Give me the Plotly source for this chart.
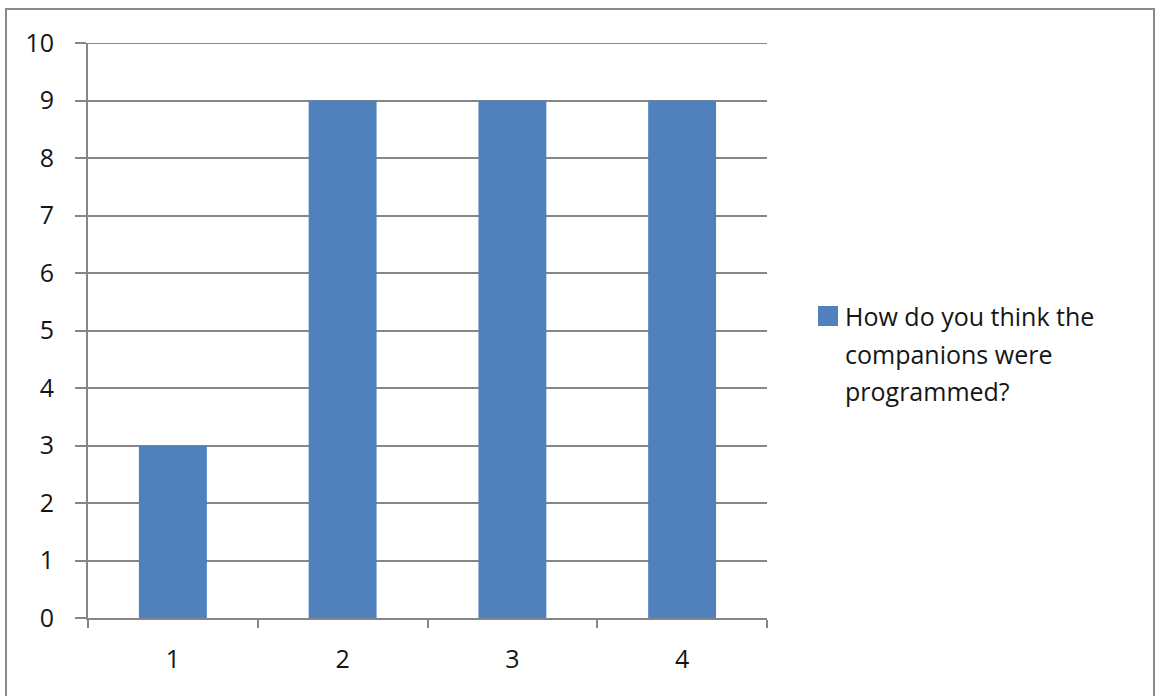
import plotly.graph_objects as go

# Survey responses per answer option
categories = ["1", "2", "3", "4"]
counts = [3, 9, 9, 9]
series_name = "How do you think the companions were programmed?"
legend_lines = ["How do you think the", "companions were", "programmed?"]
y_ticks = list(range(0, 11))
y_max = 10

W, H = 1155, 696
L, R, T, B = 88, 767, 43, 618  # plot area in pixels

BAR = "#4F81BD"
GRID = "#868686"
TXT = "#151515"
FONT = "'Open Sans', Lato, sans-serif"
FS = 25
WEIGHT = 500


def px_x(p):
    return (p - L) / (R - L)


def px_y(p):
    return (B - p) / (B - T)


fig = go.Figure(
    go.Bar(x=categories, y=counts, name=series_name, marker=dict(color=BAR, line=dict(width=0)),
           showlegend=False)
)

fig.update_layout(
    width=W, height=H,
    margin=dict(l=L, r=W - R, t=T, b=H - B, pad=0),
    paper_bgcolor="white", plot_bgcolor="white",
    bargap=0.6,
    font=dict(family=FONT, size=FS, color=TXT, weight=WEIGHT),
)

fig.update_yaxes(
    range=[0, y_max], tickvals=y_ticks, showgrid=True, gridcolor=GRID, gridwidth=2,
    showline=True, linecolor=GRID, linewidth=2, zeroline=False,
    ticks="outside", ticklen=11, tickwidth=2, tickcolor=GRID, ticklabelstandoff=16,
    tickfont=dict(size=FS, color=TXT, weight=WEIGHT),
)
fig.update_xaxes(
    type="category", showgrid=False, showline=True, linecolor=GRID, linewidth=2,
    ticks="outside", tickson="boundaries", ticklen=8, tickwidth=2, tickcolor=GRID,
    ticklabelstandoff=18, tickfont=dict(size=FS, color=TXT, weight=WEIGHT),
)

shapes = [
    # top gridline at the axis maximum
    dict(type="line", xref="paper", yref="y", x0=0, x1=1, y0=y_max, y1=y_max,
         line=dict(color=GRID, width=2), layer="below"),
    # legend colour key
    dict(type="rect", xref="paper", yref="paper",
         x0=px_x(818), x1=px_x(838), y0=px_y(326), y1=px_y(306),
         fillcolor=BAR, line=dict(width=0)),
    # outer chart border
    dict(type="rect", xref="paper", yref="paper",
         x0=px_x(6), x1=px_x(1154), y0=px_y(9), y1=px_y(700),
         line=dict(color="#8a8a8a", width=2), fillcolor="rgba(0,0,0,0)", layer="below"),
]
annotations = []
for i, line in enumerate(legend_lines):
    annotations.append(dict(
        text=line, xref="paper", yref="paper", x=px_x(843), y=px_y(316 + i * 37.5),
        xanchor="left", yanchor="middle", showarrow=False,
        font=dict(family=FONT, size=FS, color=TXT, weight=WEIGHT),
    ))
fig.update_layout(shapes=shapes, annotations=annotations)

fig.write_html("out.html")
